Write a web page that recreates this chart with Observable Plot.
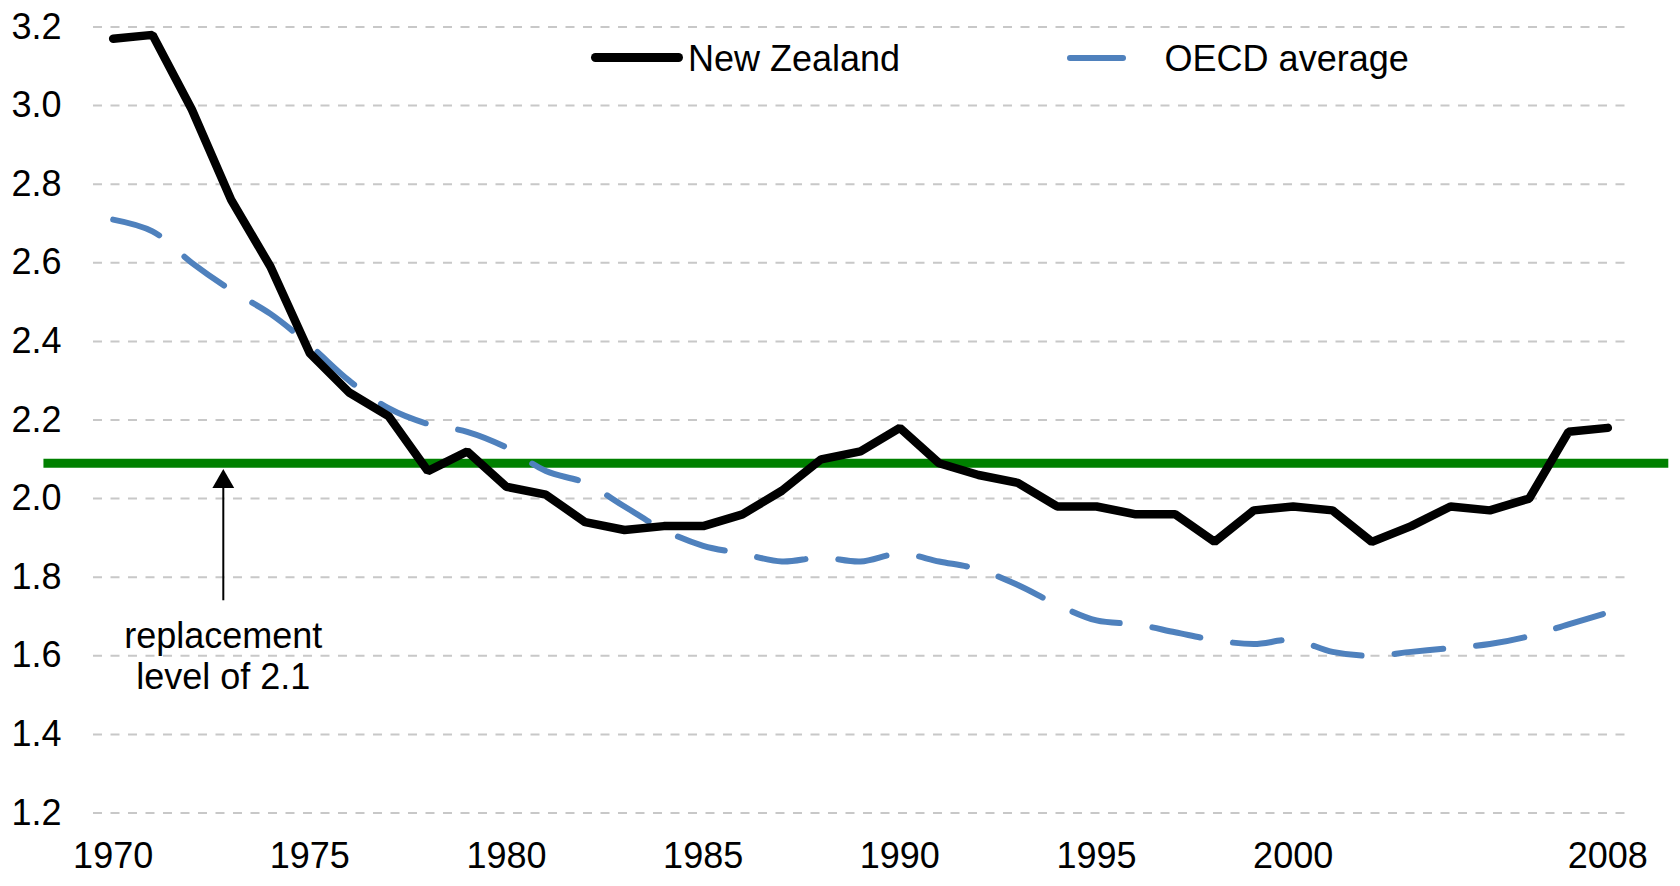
<!DOCTYPE html>
<html>
<head>
<meta charset="utf-8">
<script src="https://cdn.jsdelivr.net/npm/d3@7"></script>
<script src="https://cdn.jsdelivr.net/npm/@observablehq/plot@0.6"></script>
<style>
  html, body { margin: 0; padding: 0; background: #fff; }
  #wrap { position: relative; width: 1680px; height: 886px; font-family: "Liberation Sans", Arial, sans-serif; }
  .lt { position: absolute; font-size: 36px; line-height: 36px; color: #000; white-space: nowrap; }
  .sw { position: absolute; }
</style>
</head>
<body>
<div id="wrap"></div>
<script>
// ---- data ----
const years = d3.range(1970, 2009);
const newZealand = [3.17, 3.18, 2.99, 2.76, 2.59, 2.37, 2.27, 2.21, 2.07, 2.12,
                    2.03, 2.01, 1.94, 1.92, 1.93, 1.93, 1.96, 2.02, 2.10, 2.12,
                    2.18, 2.09, 2.06, 2.04, 1.98, 1.98, 1.96, 1.96, 1.89, 1.97,
                    1.98, 1.97, 1.89, 1.93, 1.98, 1.97, 2.00, 2.17, 2.18];
const oecdAverage = [2.71, 2.68, 2.60, 2.53, 2.47, 2.39, 2.30, 2.23, 2.19, 2.17,
                     2.13, 2.07, 2.04, 1.98, 1.92, 1.88, 1.86, 1.84, 1.85, 1.84,
                     1.86, 1.84, 1.82, 1.78, 1.73, 1.69, 1.68, 1.66, 1.64, 1.63,
                     1.64, 1.61, 1.60, 1.61, 1.62, 1.63, 1.65, 1.68, 1.71];
const xTicks = [1970, 1975, 1980, 1985, 1990, 1995, 2000, 2008];
const yTicks = [1.2, 1.4, 1.6, 1.8, 2.0, 2.2, 2.4, 2.6, 2.8, 3.0, 3.2];
const seriesNames = ["New Zealand", "OECD average"];
const replacementLevel = 2.09;
const replacementSpan = [1968.24, 2009.55];
const annotationText = "replacement\nlevel of 2.1";
const annotationYear = 1972.8;
const annotationTextY = 1.60;
const arrowFrom = 1.74;
const arrowTo = 2.043;

const table = years.map((year, i) => ({year, nz: newZealand[i], oecd: oecdAverage[i]}));

const chart = Plot.plot({
  width: 1680,
  height: 886,
  marginLeft: 93,
  marginRight: 53,
  marginTop: 26.5,
  marginBottom: 73.5,
  style: {fontFamily: "'Liberation Sans', Arial, sans-serif", fontSize: "36px", color: "#000", background: "#fff", overflow: "visible"},
  x: {domain: [1969.5, 2008.5], ticks: xTicks, tickFormat: d => String(d), tickSize: 0, tickPadding: 29, label: null},
  y: {domain: [1.2, 3.2], ticks: yTicks, tickFormat: d => d.toFixed(1), tickSize: 0, tickPadding: 32, label: null},
  marks: [
    Plot.ruleY(yTicks, {stroke: "#c8c8c8", strokeWidth: 2, strokeDasharray: "9 8.5"}),
    Plot.ruleY([{y: replacementLevel, x1: replacementSpan[0], x2: replacementSpan[1]}],
      {y: "y", x1: "x1", x2: "x2", stroke: "#008000", strokeWidth: 9}),
    Plot.line(table, {x: "year", y: "oecd", stroke: "#4F81BD", strokeWidth: 6, strokeDasharray: "49 33",
      strokeLinecap: "round", curve: "catmull-rom"}),
    Plot.line(table, {x: "year", y: "nz", stroke: "#000", strokeWidth: 8.5, strokeLinejoin: "miter",
      strokeLinecap: "round"}),
    Plot.ruleX([{x: annotationYear, y1: arrowFrom, y2: arrowTo}], {x: "x", y1: "y1", y2: "y2", stroke: "#000", strokeWidth: 2}),
    Plot.dot([{x: annotationYear, y: arrowTo}], {x: "x", y: "y", symbol: "triangle", r: 8.1, fill: "#000", stroke: null}),
    Plot.text([{x: annotationYear, y: annotationTextY, t: annotationText}],
      {x: "x", y: "y", text: "t", fontSize: 36, lineHeight: 1.14, fill: "#000"})
  ]
});

const wrap = document.getElementById("wrap");
wrap.appendChild(chart);

// ---- legend (inside plot area, top) ----
function addEl(tag, cls, styles, text) {
  const el = document.createElement(tag);
  el.className = cls;
  Object.assign(el.style, styles);
  if (text) el.textContent = text;
  wrap.appendChild(el);
}
addEl("div", "sw", {left: "591px", top: "53px", width: "92px", height: "9px", borderRadius: "4.5px", background: "#000"});
addEl("span", "lt", {left: "688px", top: "41.4px"}, seriesNames[0]);
addEl("div", "sw", {left: "1067px", top: "55px", width: "58.5px", height: "6px", borderRadius: "3px", background: "#4F81BD"});
addEl("span", "lt", {left: "1164.6px", top: "41.4px"}, seriesNames[1]);
</script>
</body>
</html>
